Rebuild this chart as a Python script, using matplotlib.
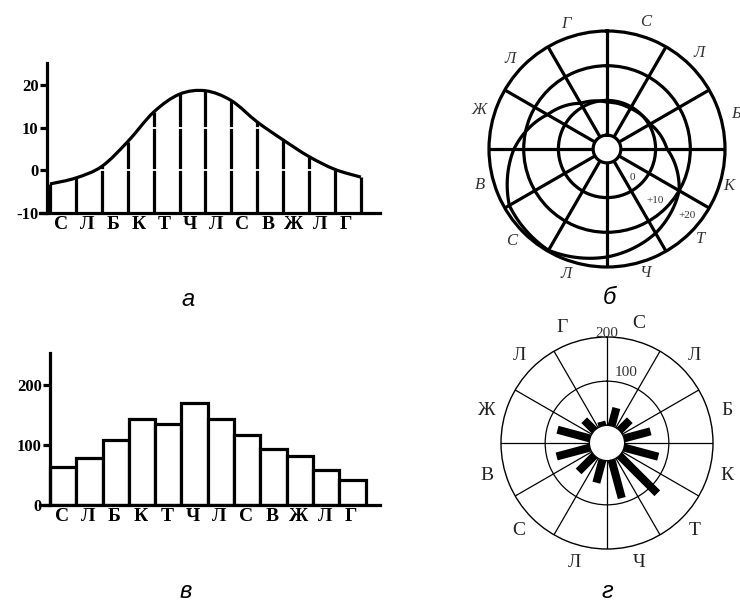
import numpy as np
import matplotlib
matplotlib.use('Agg')
import matplotlib.pyplot as plt
from matplotlib.path import Path
from matplotlib.patches import PathPatch

# ---------------- data ----------------
months = ['С', 'Л', 'Б', 'К', 'Т', 'Ч', 'Л', 'С', 'В', 'Ж', 'Л', 'Г']
temp_line = [-3.2, -1.8, 0.9, 6.7, 13.6, 17.8, 18.6, 16.3, 11.3, 7.1, 3.2, 0.2, -1.6]
temp_polar = [-0.5, -0.5, 0.4, 3.3, 10.0, 14.0, 17.1, 19.7, 18.5, 12.8, 5.8, 1.2, -0.5]
precip_bars = [64, 78, 108, 143, 134, 169, 143, 117, 94, 82, 58, 41]
precip_polar = [42, 33, 62, 80, 121, 89, 53, 51, 78, 76, 33, 10]
temp_ticks = [20, 10, 0, -10]
temp_tick_labels = ['20', '10', '0', '-10']
precip_ticks = [200, 100, 0]
precip_tick_labels = ['200', '100', '0']
temp_ring_labels = ['0', '+10', '+20']
captions = ['а', 'б', 'в', 'г']

W, H = 740, 609
fig = plt.figure(figsize=(7.4, 6.09), dpi=100)

SERIF = 'Liberation Serif'
SANS = 'Liberation Sans'
LW = 2.3


def box(x0, ytop, x1, ybot):
    return [x0 / W, 1 - ybot / H, (x1 - x0) / W, (ybot - ytop) / H]


def smooth_path(x, y):
    """Cubic Bezier path passing through every data point (drawing only)."""
    pts = np.column_stack([x, y]).astype(float)
    verts = [pts[0]]
    codes = [Path.MOVETO]
    for i in range(len(pts) - 1):
        p0 = pts[i - 1] if i > 0 else pts[i]
        p1, p2 = pts[i], pts[i + 1]
        p3 = pts[i + 2] if i + 2 < len(pts) else pts[i + 1]
        verts += [p1 + (p2 - p0) / 6, p2 - (p3 - p1) / 6, p2]
        codes += [Path.CURVE4] * 3
    return Path(verts, codes)


# ---------------- panel а: line chart ----------------
ax = fig.add_axes(box(40, 63, 380, 213))
n = len(temp_line)
xs = np.arange(n)
ax.set_xlim(-0.386, 12.74)
ax.set_ylim(-10, 25.1)
ax.vlines(xs, -10, temp_line, colors='k', lw=LW, zorder=2)
ax.hlines([0, 10], 0.3, 12.5, colors='white', lw=1.3, zorder=3)
ax.add_patch(PathPatch(smooth_path(xs, temp_line), fill=False, edgecolor='k',
                       lw=LW, zorder=4, capstyle='butt'))
for s in ['top', 'right']:
    ax.spines[s].set_visible(False)
ax.spines['left'].set_position(('data', -0.12))
ax.spines['left'].set_linewidth(LW)
ax.spines['bottom'].set_linewidth(LW)
ax.set_yticks(temp_ticks)
ax.set_yticklabels(temp_tick_labels, family=SERIF, fontweight='bold', fontsize=12)
ax.tick_params(axis='y', direction='out', length=5, width=LW, pad=1)
ax.set_xticks(np.arange(len(months)) + 0.42)
ax.set_xticklabels(months, family=SERIF, fontweight='bold', fontsize=14)
ax.tick_params(axis='x', length=0, pad=2)

# ---------------- panel в: bar chart ----------------
ax = fig.add_axes(box(40, 353, 380, 505))
ax.set_xlim(-0.38, 12.55)
ax.set_ylim(0, 253)
ax.bar(np.arange(len(precip_bars)), precip_bars, width=1, align='edge',
       facecolor='white', edgecolor='k', lw=LW, zorder=2)
for s in ['top', 'right']:
    ax.spines[s].set_visible(False)
ax.spines['left'].set_position(('data', 0))
ax.spines['left'].set_linewidth(LW)
ax.spines['bottom'].set_linewidth(LW)
ax.set_yticks(precip_ticks)
ax.set_yticklabels(precip_tick_labels, family=SERIF, fontweight='bold', fontsize=12)
ax.tick_params(axis='y', direction='out', length=5, width=LW, pad=1)
ax.set_xticks(np.arange(len(months)) + 0.45)
ax.set_xticklabels(months, family=SERIF, fontweight='bold', fontsize=14)
ax.tick_params(axis='x', length=0, pad=2)

# ---------------- panel б: polar temperature ----------------
R = 118
ax = fig.add_axes(box(607 - R, 149 - R, 607 + R, 149 + R), projection='polar')
ax.set_theta_zero_location('N')
ax.set_theta_direction(-1)
ax.set_ylim(-10, 20)
ax.set_rorigin(-14)
ax.set_xticks(np.deg2rad(np.arange(0, 360, 30)))
ax.set_xticklabels([])
ax.set_yticks([0, 10])
ax.set_yticklabels([])
ax.xaxis.grid(True, color='k', lw=LW)
ax.yaxis.grid(True, color='k', lw=LW)
for s in ax.spines.values():
    s.set_linewidth(LW)
    s.set_color('k')
th = np.deg2rad(np.arange(0, 361, 30))
curve = Path(np.column_stack([th, temp_polar]), _interpolation_steps=40)
ax.add_patch(PathPatch(curve, fill=False, edgecolor='k', lw=LW,
                       transform=ax.transData, joinstyle='round'))
lab_ang_b = [17, 44, 75, 107, 134, 163, 198, 226, 254, 287, 313, 342]
lab_r_b = [24.3, 24.3, 24.6, 22.8, 23.4, 23.4, 24.0, 24.3, 24.0, 24.6, 24.0, 24.0]
for m, a, r in zip(months, lab_ang_b, lab_r_b):
    ax.text(np.deg2rad(a), r, m, ha='center', va='center',
            family=SERIF, fontstyle='italic', fontsize=12, color='#333333',
            clip_on=False)
for (ang, r), lab in zip([(139, -3.0), (137, 6.2), (130, 16.0)], temp_ring_labels):
    ax.text(np.deg2rad(ang), r, lab, ha='center', va='center', family=SERIF,
            fontsize=8, color='#333333')

# ---------------- panel г: polar precipitation ----------------
R2 = 106
ax = fig.add_axes(box(607 - R2, 443 - R2, 607 + R2, 443 + R2), projection='polar')
ax.set_theta_zero_location('N')
ax.set_theta_direction(-1)
ax.set_ylim(0, 200)
ax.set_rorigin(-40)
ax.set_xticks(np.deg2rad(np.arange(0, 360, 30)))
ax.set_xticklabels([])
ax.set_yticks([100])
ax.set_yticklabels([])
ax.xaxis.grid(True, color='k', lw=0.9)
ax.yaxis.grid(True, color='k', lw=0.9)
for s in ax.spines.values():
    s.set_linewidth(1.0)
    s.set_color('k')
for k, v in enumerate(precip_polar):
    t = np.deg2rad(15 + 30 * k)
    ax.plot([t, t], [0, v], color='k', lw=5.8, solid_capstyle='butt', zorder=3)
for k, m in enumerate(months):
    ang = 15 + 30 * k
    if k == 11:
        ang -= 6
    ax.text(np.deg2rad(ang), 241, m, ha='center', va='center',
            family=SERIF, fontsize=14, color='#222222', clip_on=False)
ax.text(0, 209, '200', ha='center', va='center', family=SERIF, fontsize=11,
        color='#333333', clip_on=False)
ax.text(np.deg2rad(15), 126, '100', ha='center', va='center', family=SERIF,
        fontsize=11, color='#333333')

# ---------------- captions ----------------
for (cx, cy), c in zip([(188, 299), (609, 297), (186, 592), (607, 592)], captions):
    fig.text(cx / W, 1 - cy / H, c, ha='center', va='center', family=SANS,
             fontstyle='italic', fontsize=17)

fig.savefig('out.png', dpi=100)
